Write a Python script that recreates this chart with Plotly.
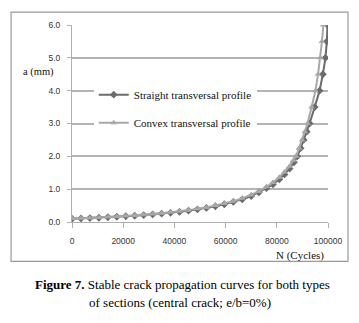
import plotly.graph_objects as go

# Straight transversal profile
n_straight = [0, 3500, 7000, 10500, 14000, 17500, 21000, 24500, 28000, 31500,
              35000, 38500, 42000, 45500, 49000, 52500, 56000, 59500, 63000, 66500,
              70000, 73000, 76000, 78500, 81000, 83000, 85000, 86700, 88000, 89300,
              90500, 91700, 92800, 94800, 96700, 98000, 99000, 99550, 99800]
a_straight = [0.10, 0.11, 0.12, 0.13, 0.145, 0.16, 0.175, 0.19, 0.21, 0.23,
              0.255, 0.28, 0.31, 0.345, 0.385, 0.43, 0.48, 0.54, 0.61, 0.69,
              0.79, 0.90, 1.03, 1.15, 1.30, 1.45, 1.63, 1.82, 2.00, 2.25,
              2.50, 2.75, 3.00, 3.50, 4.00, 4.50, 5.00, 5.50, 6.00]

# Convex transversal profile
n_convex = [0, 3500, 7000, 10500, 14000, 17500, 21000, 24500, 28000, 31500,
            35000, 38500, 42000, 45500, 49000, 52500, 56000, 59500, 63000, 66500,
            70000, 73000, 76000, 78500, 81000, 83000, 85000, 86500, 87500, 88700,
            89900, 91000, 92000, 93600, 95100, 96100, 97000, 97650, 98200]
a_convex = [0.11, 0.115, 0.125, 0.135, 0.15, 0.165, 0.18, 0.20, 0.22, 0.24,
            0.265, 0.295, 0.325, 0.36, 0.40, 0.445, 0.50, 0.56, 0.63, 0.72,
            0.82, 0.93, 1.07, 1.20, 1.36, 1.52, 1.70, 1.88, 2.00, 2.25,
            2.50, 2.75, 3.00, 3.50, 4.00, 4.50, 5.00, 5.50, 6.00]

x_ticks = [0, 20000, 40000, 60000, 80000, 100000]
y_ticks = [0.0, 1.0, 2.0, 3.0, 4.0, 5.0, 6.0]

serif = "Liberation Serif"

fig = go.Figure()
fig.add_trace(go.Scatter(
    x=n_straight, y=a_straight, mode="lines+markers",
    name="Straight transversal profile", legendgroup="s",
    line=dict(color="#6b6b6b", width=2),
    marker=dict(symbol="diamond", size=6, color="#6b6b6b"),
))
fig.add_trace(go.Scatter(
    x=n_convex, y=a_convex, mode="lines+markers",
    name="Convex transversal profile", legendgroup="c",
    line=dict(color="#a8a8a8", width=2),
    marker=dict(symbol="triangle-up", size=6, color="#a8a8a8"),
))

# page has an 8px body margin: figure drawn at (8, 8)
fig.update_layout(
    width=351, height=315,
    margin=dict(l=64, r=31, t=14, b=101),
    paper_bgcolor="white", plot_bgcolor="white",
    showlegend=True,
    legend=dict(
        x=0.085, y=0.72, xanchor="left", yanchor="top",
        bgcolor="white", borderwidth=0,
        font=dict(family=serif, size=11, color="#111"),
        traceorder="grouped", tracegroupgap=9, itemwidth=30,
    ),
    xaxis=dict(
        range=[0, 100000], tickvals=x_ticks,
        ticktext=[str(v) for v in x_ticks],
        showgrid=False, zeroline=False,
        showline=True, linecolor="#b0b0b0", linewidth=1,
        ticks="outside", ticklen=5, tickcolor="#b0b0b0",
        tickfont=dict(family="Liberation Sans", size=8.5, color="#333"),
        ticklabelstandoff=6,
    ),
    yaxis=dict(
        range=[0, 6], tickvals=y_ticks,
        ticktext=["%.1f" % v for v in y_ticks],
        showgrid=True, gridcolor="#b4b4b4", gridwidth=1.5,
        zeroline=False,
        showline=True, linecolor="#b0b0b0", linewidth=1,
        ticks="outside", ticklen=4, tickcolor="#b0b0b0",
        tickfont=dict(family="Liberation Sans", size=8.5, color="#333"),
        ticklabelstandoff=5,
    ),
    shapes=[dict(
        type="rect", xref="paper", yref="paper",
        x0=-0.238, x1=1.078, y0=-0.2, y1=1.065,
        line=dict(color="#999999", width=1.2), layer="above",
    )],
    annotations=[
        dict(text="a (mm)", xref="paper", yref="paper", x=-0.13, y=0.76,
             xanchor="center", yanchor="middle", showarrow=False,
             font=dict(family=serif, size=10.5, color="#111")),
        dict(text="N (Cycles)", xref="paper", yref="paper", x=0.89, y=-0.17,
             xanchor="center", yanchor="middle", showarrow=False,
             font=dict(family=serif, size=11, color="#111")),
        dict(text="<b>Figure 7.</b> Stable crack propagation curves for both types",
             xref="paper", yref="paper", x=0.43, y=-0.315,
             xanchor="center", yanchor="middle", showarrow=False,
             font=dict(family=serif, size=13, color="#000")),
        dict(text="of sections (central crack; e/b=0%)",
             xref="paper", yref="paper", x=0.42, y=-0.41,
             xanchor="center", yanchor="middle", showarrow=False,
             font=dict(family=serif, size=13, color="#000")),
    ],
)

fig.write_html("out.html")
